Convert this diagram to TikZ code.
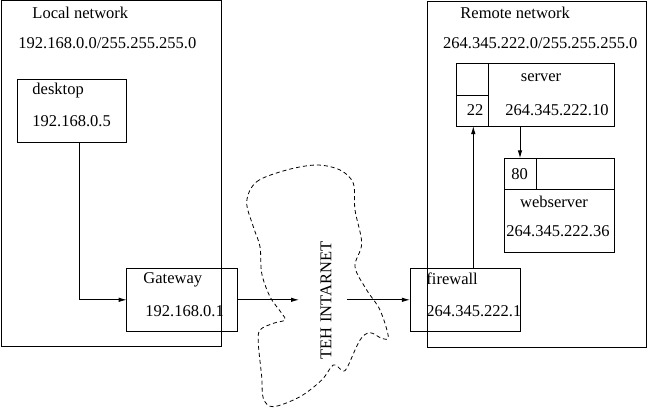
\documentclass[tikz,border=0pt]{standalone}
\usepackage{fontspec}
\setmainfont{Liberation Serif}
\usetikzlibrary{arrows.meta}
\begin{document}
\begin{tikzpicture}[x=1pt,y=-1pt,line width=0.9pt,
  font=\fontsize{16.5}{19}\selectfont,
  box/.style={draw,rectangle,inner sep=0pt,outer sep=0pt},
  lbl/.style={inner sep=0pt,anchor=west},
  clbl/.style={inner sep=0pt},
  arr/.style={-{Latex[length=8pt,width=4.5pt]}}]
\useasboundingbox (0,0) rectangle (647,409);
% networks
\node[box,minimum width=220.7pt,minimum height=345.7pt] (local) at (111.3,173.8) {};
\node[box,minimum width=219pt,minimum height=346pt] (remote) at (536.5,174) {};
\node[lbl] (localt) at (32,13) {Local network};
\node[lbl] (localip) at (18,43) {192.168.0.0/255.255.255.0};
\node[lbl] (remotet) at (460,13) {Remote network};
\node[lbl] (remoteip) at (442.7,43) {264.345.222.0/255.255.255.0};
% desktop
\node[box,minimum width=109pt,minimum height=63pt] (desktop) at (71.5,110.5) {};
\node[lbl] (desktopt) at (32,91) {desktop};
\node[lbl] (desktopip) at (32,121) {192.168.0.5};
% gateway
\node[box,minimum width=110.6pt,minimum height=63pt] (gateway) at (182,299.8) {};
\node[lbl] (gatewayt) at (143,279.5) {Gateway};
\node[lbl] (gatewayip) at (145,311.5) {192.168.0.1};
% firewall
\node[box,minimum width=110.7pt,minimum height=63pt] (firewall) at (465.3,299.8) {};
\node[lbl] (firewallt) at (426,279) {firewall};
\node[lbl] (firewallip) at (426,311.5) {264.345.222.1};
% server
\node[box,minimum width=157.3pt,minimum height=62.7pt] (server) at (535.3,94.7) {};
\draw (488.3,63.3) -- (488.3,126);
\draw (456.7,95) -- (488.3,95);
\node[clbl] (servert) at (541,78) {server};
\node[clbl] (port22) at (475,110) {22};
\node[lbl] (serverip) at (505,110) {264.345.222.10};
% webserver
\node[box,minimum width=109.7pt,minimum height=94pt] (web) at (559.2,205.3) {};
\draw (504.3,189.3) -- (614,189.3);
\draw (536,158.3) -- (536,189.3);
\node[clbl] (port80) at (519.5,174) {80};
\node[clbl] (webt) at (554,201.7) {webserver};
\node[lbl] (webip) at (506,231) {264.345.222.36};
% internet cloud
\draw[dashed,dash pattern=on 4pt off 3pt,line width=0.8pt] plot[smooth cycle,tension=0.55] coordinates {
 (246.7,201.7) (256.7,181.7) (286.7,170) (316.7,165) (340,170) (353.3,183.3)
 (355,210) (361.7,243.3) (355,266.7) (366.7,290) (380,310) (388.3,336.7)
 (381.7,338.3) (370,332.7) (360,340) (346.7,368.3) (341.7,370) (333.3,365)
 (321.7,380) (300,396.7) (273.3,406.7) (263.3,398.3) (261.7,376.7)
 (258.3,343.3) (260,330) (273.3,323.3) (285,320) (281.7,313.3) (270,296.7)
 (261.7,273.3) (260,246.7) (253.3,226.7)};
\node[rotate=90,inner sep=0pt] (inet) at (326,300.5) {TEH INTARNET};
% connectors
\coordinate (netL) at (299,299.8);
\coordinate (netR) at (347,299.8);
\coordinate (fx) at (473.3,0);
\coordinate (sx) at (520,0);
\draw[arr] ([xshift=7.5pt]desktop.south) |- (gateway.west);
\draw[arr] (gateway.east) -- (netL);
\draw[arr] (netR) -- (firewall.west);
\draw[arr] (firewall.north -| fx) -- (server.south -| fx);
\draw[arr] (server.south -| sx) -- (web.north -| sx);
\end{tikzpicture}
\end{document}
